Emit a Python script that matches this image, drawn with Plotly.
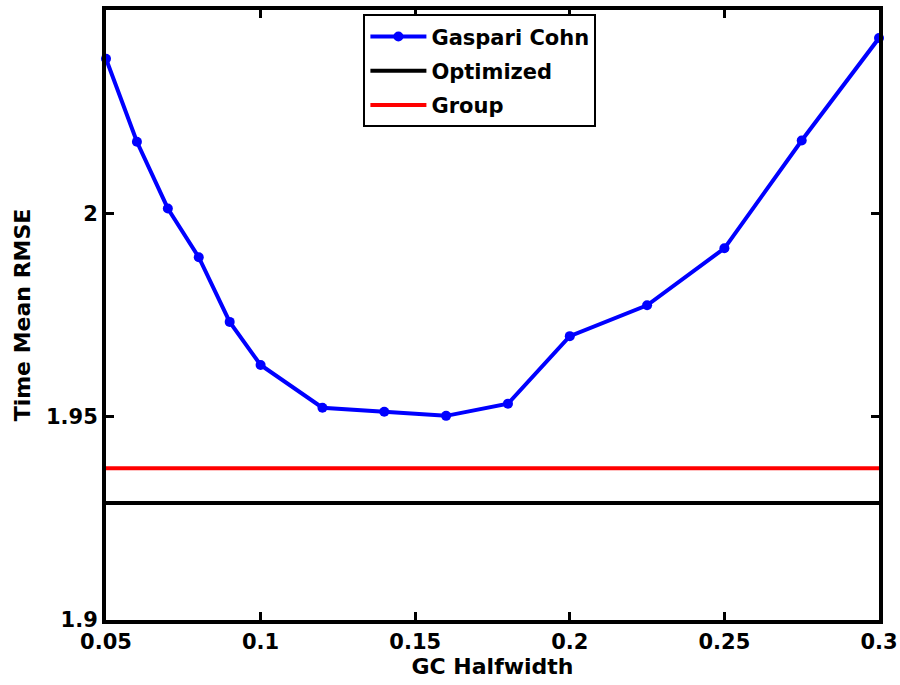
import plotly.graph_objects as go

halfwidth = [0.05, 0.06, 0.07, 0.08, 0.09, 0.1, 0.12, 0.14, 0.16, 0.18, 0.2, 0.225, 0.25, 0.275, 0.3]
gc_rmse = [2.0380, 2.0176, 2.0012, 1.9892, 1.9733, 1.9627, 1.9522, 1.9512, 1.9502, 1.9532,
           1.9698, 1.9774, 1.9914, 2.0179, 2.0431]
optimized_rmse = 1.9288
group_rmse = 1.9373
x_range = [0.05, 0.3]
y_range = [1.9, 2.05]
x_ticks = [0.05, 0.1, 0.15, 0.2, 0.25, 0.3]
x_ticktext = ["0.05", "0.1", "0.15", "0.2", "0.25", "0.3"]
y_ticks = [1.9, 1.95, 2.0]
y_ticktext = ["1.9", "1.95", "2"]

FONT = dict(family="DejaVu Sans, Liberation Sans, Arial, sans-serif", color="black", weight="bold")

fig = go.Figure()
fig.add_trace(go.Scatter(
    x=halfwidth, y=gc_rmse, mode="lines+markers", name="Gaspari Cohn",
    line=dict(color="#0000ff", width=4), marker=dict(color="#0000ff", size=10),
    cliponaxis=False, legendgroup="a",
))
fig.add_trace(go.Scatter(
    x=x_range, y=[optimized_rmse, optimized_rmse], mode="lines", name="Optimized",
    line=dict(color="black", width=4), legendgroup="b",
))
fig.add_trace(go.Scatter(
    x=x_range, y=[group_rmse, group_rmse], mode="lines", name="Group",
    line=dict(color="#ff0000", width=4), legendgroup="c",
))

axis_common = dict(
    showline=True, linecolor="black", linewidth=4, mirror="ticks",
    ticks="inside", ticklen=8, tickwidth=3, tickcolor="black",
    showgrid=False, zeroline=False, automargin=False,
    tickfont=dict(size=21, **FONT),
)

fig.update_layout(
    width=900, height=685,
    margin=dict(l=106, r=21, t=10, b=65, autoexpand=False),
    paper_bgcolor="white", plot_bgcolor="white",
    font=dict(size=21, **FONT),
    xaxis=dict(range=x_range, tickvals=x_ticks, ticktext=x_ticktext,
               title=dict(text="GC Halfwidth", font=dict(size=22, **FONT), standoff=0),
               **axis_common),
    yaxis=dict(range=y_range, tickvals=y_ticks, ticktext=y_ticktext,
               title=dict(text="Time Mean RMSE", font=dict(size=22, **FONT), standoff=10),
               **axis_common),
    legend=dict(x=0.333, y=0.993, xanchor="left", yanchor="top",
                bgcolor="white", bordercolor="black", borderwidth=2,
                font=dict(size=21, **FONT), itemwidth=56, tracegroupgap=4,
                traceorder="grouped"),
    showlegend=True,
)

fig.write_html("out.html", config={"displayModeBar": False},
               post_script="document.body.style.margin='0';")
